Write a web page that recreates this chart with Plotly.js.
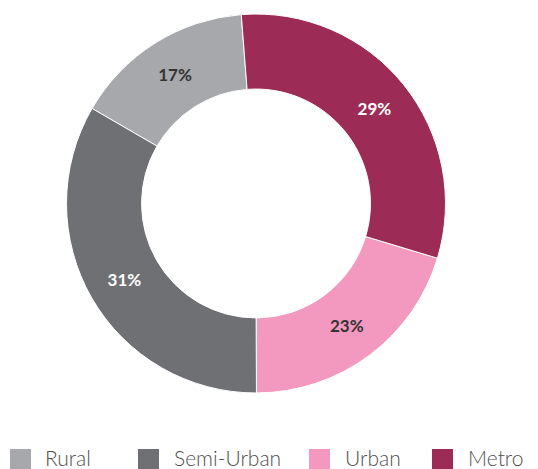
<!DOCTYPE html>
<html>
<head>
<meta charset="utf-8">
<script src="https://cdn.plot.ly/plotly-3.0.1.min.js"></script>
<style>html,body{margin:0;padding:0;background:#fff;}#chart{width:538px;height:469px;}</style>
</head>
<body>
<div id="chart"></div>
<script>
var categories = ['Rural', 'Semi-Urban', 'Urban', 'Metro'];
var shares = [15.4, 33.4, 20.3, 30.9];
var labelsText = ['17%', '31%', '23%', '29%'];
var colors = ['#A7A8AC', '#6F7074', '#F398BE', '#9C2C56'];
var textColors = ['#333333', '#FFFFFF', '#333333', '#FFFFFF'];

// legend item layout (pixels in the 538x469 page)
var legendSquareX = [10, 138, 309, 432];
var legendTextX = [44, 173, 344, 467];
var legendTop = 449, legendBottom = 469;

var W = 538, H = 469, mT = 14, mB = 76;
var plotH = H - mT - mB;
function py(Y) { return (H - mB - Y) / plotH; }

var trace = {
  type: 'pie',
  labels: categories,
  values: shares,
  text: labelsText,
  textinfo: 'text',
  hoverinfo: 'label+text',
  sort: false,
  direction: 'counterclockwise',
  rotation: -59.9,
  hole: 0.604,
  showlegend: false,
  marker: {colors: colors, line: {color: '#FFFFFF', width: 1}},
  textposition: 'inside',
  insidetextorientation: 'horizontal',
  textfont: {family: 'Lato, sans-serif', size: 17, color: textColors, weight: 'bold'},
  domain: {x: [0.1, 0.8517], y: [0, 1]}
};

var shapes = [], annotations = [];
categories.forEach(function (c, i) {
  shapes.push({
    type: 'rect', xref: 'paper', yref: 'paper',
    x0: legendSquareX[i] / W, x1: (legendSquareX[i] + 21) / W,
    y0: py(legendBottom), y1: py(legendTop),
    fillcolor: colors[i], line: {width: 0}
  });
  annotations.push({
    xref: 'paper', yref: 'paper', x: legendTextX[i] / W, y: py(457),
    xanchor: 'left', yanchor: 'middle', showarrow: false, text: c, borderpad: 0,
    font: {family: 'Lato, sans-serif', size: 21, color: '#505050', weight: 300}
  });
});

var layout = {
  width: W, height: H,
  margin: {l: 0, r: 0, t: mT, b: mB, autoexpand: false},
  paper_bgcolor: '#FFFFFF',
  showlegend: false,
  shapes: shapes,
  annotations: annotations
};

Plotly.newPlot('chart', [trace], layout, {displayModeBar: false, staticPlot: true});
</script>
</body>
</html>
